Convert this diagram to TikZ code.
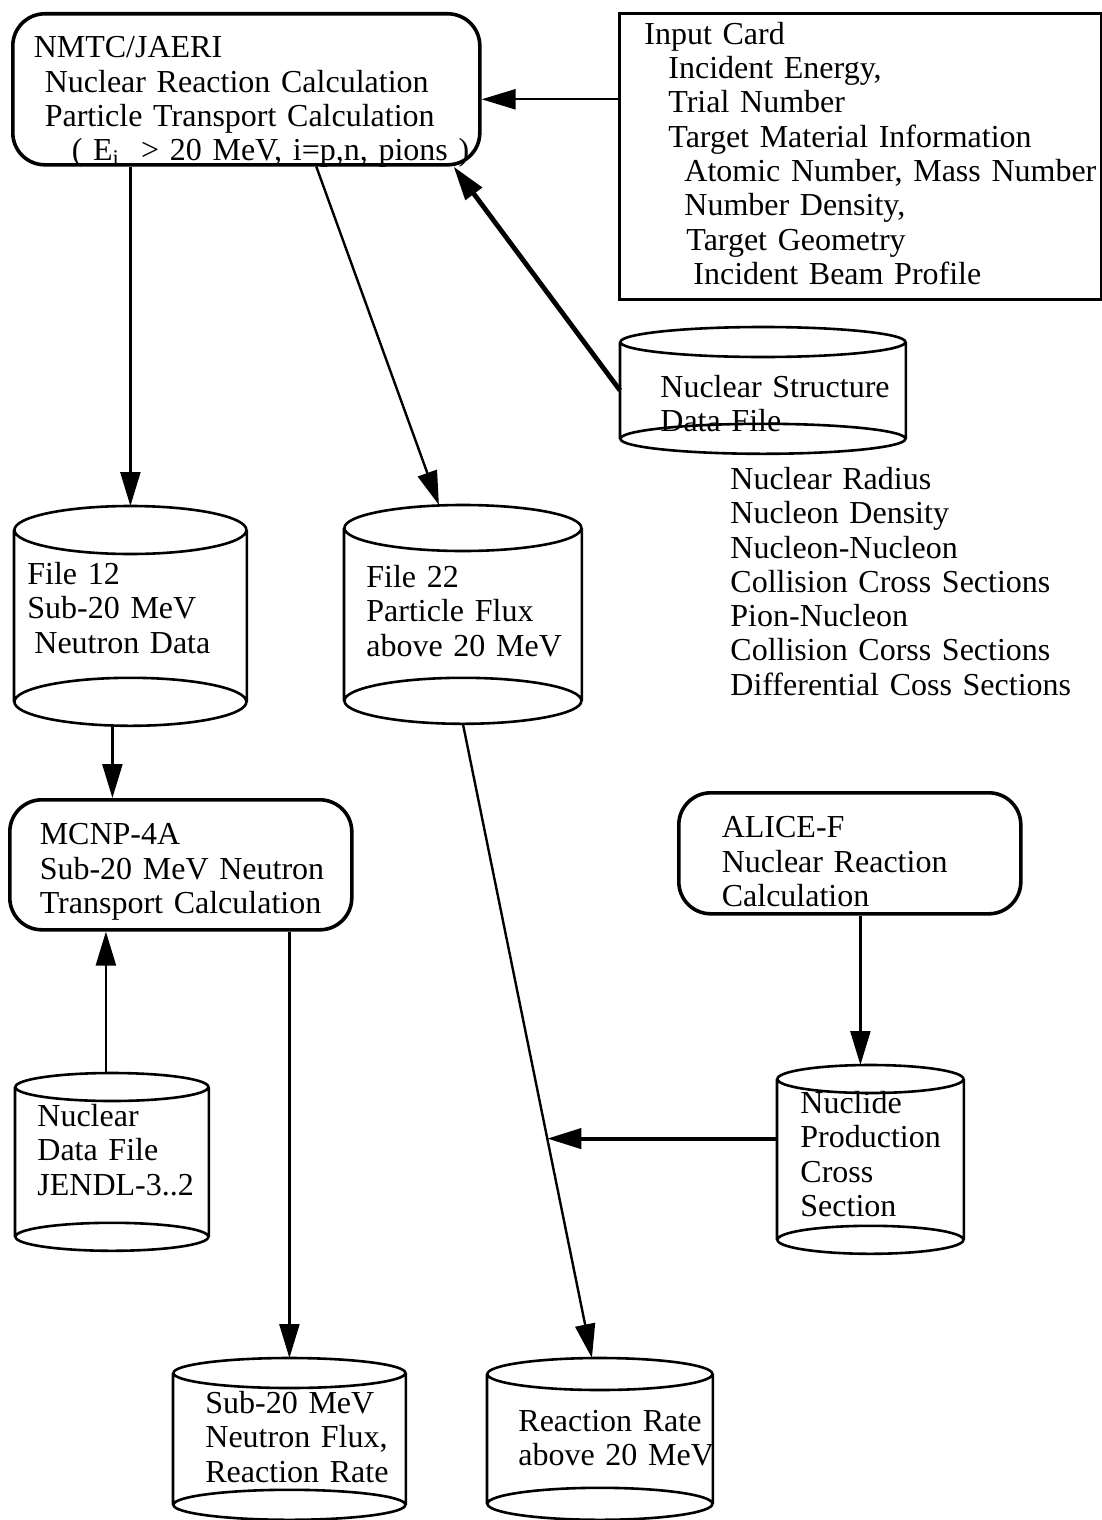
\documentclass[tikz,border=0pt]{standalone}
\usepackage{fontspec}
\setmainfont{Liberation Serif}
\usetikzlibrary{arrows.meta,calc}

\begin{document}
\begin{tikzpicture}[x=0.5pt,y=-0.5pt,
  every node/.style={font=\fontsize{16}{17.15}\selectfont,align=left,
    anchor=north west,inner ysep=0pt,
    execute at begin node={\rightskip=-200pt plus 1fil\relax}},
  prog/.style={draw,line width=1.8pt,rounded corners=16pt},
  card/.style={draw,line width=1.4pt},
  store/.style={draw=none},
  can/.style={line width=1.3pt},
  flow/.style={line width=1.2pt,-{Triangle[length=17pt,width=10pt]}},
  heavy/.style={flow,line width=2.4pt}]
\useasboundingbox (0,0) rectangle (1102,1520) ;

\node (nmtc) [prog,text width=212.5pt,inner xsep=10.5pt,text height=22pt,
  text depth=53.5pt] at (11,12)
 {NMTC/JAERI\\
  \hspace*{5.5pt}Nuclear Reaction Calculation\\
  \hspace*{5.5pt}Particle Transport Calculation\\
  \hspace*{19pt}( E\textsubscript{i} \ > 20 MeV, i=p,n, pions )} ;
\node (input) [card,text width=216pt,inner xsep=12.5pt,text height=15.5pt,
  text depth=127.5pt] at (618,12)
 {Input Card\\
  \hspace*{12pt}Incident Energy,\\
  \hspace*{12pt}Trial Number\\
  \hspace*{12pt}Target Material Information\\
  \hspace*{20pt}Atomic Number, Mass Number\\
  \hspace*{20pt}Number Density,\\
  \hspace*{21pt}Target Geometry\\
  \hspace*{24.5pt}Incident Beam Profile} ;
\node (nsdf) [store,text width=102.5pt,inner xsep=20pt,text height=35pt,
  text depth=28pt] at (620,327)
 {Nuclear Structure\\Data File} ;
\node (props) [text width=180pt,inner xsep=0pt,text height=12pt,
  text depth=110pt] at (730,465)
 {Nuclear Radius\\
  Nucleon Density\\
  Nucleon-Nucleon\\
  Collision Cross Sections\\
  Pion-Nucleon\\
  Collision Corss Sections\\
  Differential Coss Sections} ;

\node (f12) [store,text width=103pt,inner xsep=6.5pt,text height=39pt,
  text depth=70.5pt] at (14,506)
 {File 12\\Sub-20 MeV\\\hspace*{3.5pt}Neutron Data} ;
\node (f22) [store,text width=96.5pt,inner xsep=11pt,text height=41pt,
  text depth=68pt] at (344,505)
 {File 22\\Particle Flux\\above 20 MeV} ;

\node (mcnp) [prog,text width=141pt,inner xsep=15pt,text height=22.5pt,
  text depth=42.5pt] at (8,798)
 {MCNP-4A\\Sub-20 MeV Neutron\\Transport Calculation} ;
\node (alice) [prog,text width=128pt,inner xsep=21.5pt,text height=22.5pt,
  text depth=38pt] at (677,791)
 {ALICE-F\\Nuclear Reaction\\Calculation} ;

\node (ndf) [store,text width=74.5pt,inner xsep=11pt,text height=26.5pt,
  text depth=62pt] at (15,1073)
 {Nuclear\\Data File\\JENDL-3..2} ;
\node (nuc) [store,text width=70pt,inner xsep=11.5pt,text height=24pt,
  text depth=70pt] at (777,1065)
 {Nuclide\\Production\\Cross\\Section} ;
\node (sub) [store,text width=84pt,inner xsep=16pt,text height=27.5pt,
  text depth=53pt] at (173,1358)
 {Sub-20 MeV\\Neutron Flux,\\Reaction Rate} ;
\node (rr) [store,text width=81.5pt,inner xsep=15.5pt,text height=36.5pt,
  text depth=44pt] at (487,1358)
 {Reaction Rate\\above 20 MeV} ;

\foreach \cyl/\rx/\ry in {nsdf/71.25pt/7.5pt,f12/58pt/12pt,f22/59.25pt/11.5pt,
    ndf/48.25pt/7pt,nuc/46.5pt/7pt,sub/58pt/7.5pt,rr/56.25pt/8pt}
  \draw [can] ([yshift=-\ry]\cyl.north) ellipse [x radius=\rx,y radius=\ry]
              ([yshift=\ry]\cyl.south) ellipse [x radius=\rx,y radius=\ry]
              ([yshift=-\ry]\cyl.north west) -- ([yshift=\ry]\cyl.south west)
              ([yshift=-\ry]\cyl.north east) -- ([yshift=\ry]\cyl.south east) ;

\coordinate (ia) at ([yshift=-5pt]nmtc.east) ;
\draw [flow] (ia -| input.west) -- (ia) ;
\draw [heavy] (nsdf.west) -- ([xshift=-14pt]nmtc.south east) ;
\draw [flow] (nmtc.south -| f12.north) -- (f12.north) ;
\draw [flow] ([xshift=35pt]nmtc.south) -- ([xshift=-12pt]f22.north) ;

\coordinate (fa) at ([xshift=-9pt]f12.south) ;
\draw [flow] (fa) -- (fa |- mcnp.north) ;
\coordinate (na) at ([xshift=-3pt]ndf.north) ;
\draw [flow] (na) -- (na |- mcnp.south) ;
\draw [flow] (sub.north |- mcnp.south) -- (sub.north) ;
\coordinate (ab) at ([xshift=-5pt]nuc.north) ;
\draw [flow] (ab |- alice.south) -- (ab) ;

\draw [flow] (f22.south) -- ([xshift=-4pt]rr.north) coordinate [pos=0.654] (hit) ;
\draw [flow,line width=2pt] (nuc.west |- hit) -- (hit) ;
\end{tikzpicture}
\end{document}
